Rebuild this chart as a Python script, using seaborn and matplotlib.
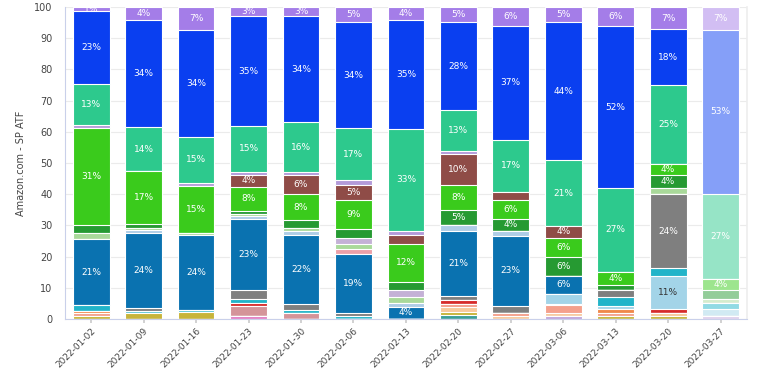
import matplotlib
matplotlib.use("Agg")
import matplotlib.pyplot as plt
import numpy as np
import pandas as pd
import seaborn as sns
from matplotlib.colors import to_rgb

# -------------------- data (share %, stack order bottom -> top) --------------------
weeks = ["2022-01-02", "2022-01-09", "2022-01-16", "2022-01-23", "2022-01-30",
         "2022-02-06", "2022-02-13", "2022-02-20", "2022-02-27", "2022-03-06",
         "2022-03-13", "2022-03-20", "2022-03-27"]
partial_week = "2022-03-27"   # drawn faded

lilac_b    = [0, 0, 0, 0, 0, 0, 0, 0, 0, 1.0, 0, 0, 1.0]
pink       = [0, 0, 0, 1.0, 0, 0, 0, 0, 0, 0, 0, 0, 0]
teal_small = [0, 0, 0, 0, 0, 0, 0, 1.2, 0, 0, 0, 0, 0]
olive      = [0.8, 2.0, 2.1, 0, 0, 0, 0, 1.2, 0, 0, 1.1, 1.0, 0]
peach      = [0, 0, 0, 0, 0, 0, 0, 1.5, 1.0, 1.0, 0, 1.0, 0]
salmon     = [1.0, 0, 0, 0, 0, 0, 0, 0.9, 1.0, 2.4, 0.9, 0, 0]
rose       = [0, 0, 0, 3.3, 1.9, 0, 0, 0, 0, 0, 0, 0, 0]
orange     = [0.7, 0, 0, 0, 0, 0, 0, 0, 0, 0, 1.1, 0, 0]
red        = [0, 0, 0, 0.8, 0, 0, 0, 1.4, 0, 0.5, 0, 1.3, 0]
skyblue    = [0, 0, 0, 0, 0, 0, 0, 0, 0, 3.2, 1.1, 10.6, 2.1]
cyan       = [2.0, 0.7, 0.7, 1.3, 1.0, 1.1, 0, 0, 0, 0, 2.9, 2.4, 1.9]
grey       = [0, 0.9, 0, 2.8, 2.0, 0.8, 0, 1.1, 2.1, 0, 2.1, 23.7, 0]
blue       = [21.0, 24.0, 24.2, 22.8, 22.1, 18.8, 3.9, 20.9, 22.6, 5.8, 0, 0, 0]
powder     = [0, 0.8, 0, 1.0, 1.1, 0, 1.1, 1.8, 1.5, 0, 0, 0, 0]
blush      = [0, 0, 0, 0, 0, 1.6, 0, 0, 0, 0, 0, 0, 0]
lightgreen = [2.0, 0.9, 0.6, 0.6, 1.0, 1.8, 2.1, 0, 0, 0, 0, 2.1, 1.3]
lavender   = [0, 0, 0, 0, 0, 2.0, 2.1, 0, 0, 0, 0, 0, 0]
darkgreen  = [2.5, 1.0, 0, 1.0, 2.6, 2.7, 2.8, 5.1, 4.0, 6.0, 1.8, 4.1, 3.0]
green      = [31.3, 17.0, 15.0, 7.8, 8.3, 9.2, 12.2, 7.9, 6.0, 6.2, 4.0, 3.6, 3.6]
brown      = [0, 0, 0, 3.8, 6.1, 5.1, 2.8, 10.0, 2.6, 3.6, 0, 0, 0]
lilac      = [1.0, 0, 0.9, 1.0, 1.1, 1.3, 1.3, 0.9, 0, 0, 0, 0, 0]
teal       = [13.0, 14.2, 15.0, 14.8, 15.8, 16.7, 32.7, 13.2, 16.6, 21.2, 27.1, 25.2, 27.1]
brightblue = [23.4, 34.2, 34.2, 35.0, 34.0, 34.0, 34.9, 28.0, 36.6, 44.2, 51.7, 17.9, 52.8]
purple     = [1.3, 4.3, 7.3, 3.0, 3.0, 4.9, 4.1, 4.9, 6.0, 4.9, 6.2, 7.1, 7.2]

series_names = ["lilac_b", "pink", "teal_small", "olive", "peach", "salmon", "rose",
                "orange", "red", "skyblue", "cyan", "grey", "blue", "powder", "blush",
                "lightgreen", "lavender", "darkgreen", "green", "brown", "lilac",
                "teal", "brightblue", "purple"]
series_values = [lilac_b, pink, teal_small, olive, peach, salmon, rose, orange, red,
                 skyblue, cyan, grey, blue, powder, blush, lightgreen, lavender,
                 darkgreen, green, brown, lilac, teal, brightblue, purple]
series_colors = ["#c0a8dc", "#e27fc4", "#3b9e98", "#c7b43a", "#f7c99c", "#f4a08c",
                 "#d49499", "#f0884a", "#d62b2b", "#a3d4e8", "#22b4c9", "#7f7f7f",
                 "#0a72b0", "#aecde6", "#eba0a8", "#a9d99a", "#c4b1d6", "#269a32",
                 "#3acb1c", "#8f4c47", "#b39bd9", "#2dc98d", "#0a3ff0", "#a47de8"]
# ------------------------------------------------------------------------------------


def fade(color, alpha=0.5):
    r, g, b = to_rgb(color)
    return (1 - alpha + alpha * r, 1 - alpha + alpha * g, 1 - alpha + alpha * b)


df = pd.DataFrame(dict(zip(series_names, series_values)), index=weeks)
cum = df.cumsum(axis=1)

sns.set_theme(style="white")
fig, ax = plt.subplots(figsize=(7.59, 3.72), dpi=100)
fig.subplots_adjust(left=0.0856, right=0.984, top=0.981, bottom=0.1425)

# stacked bars: draw cumulative totals from the top series down
for name, color in reversed(list(zip(series_names, series_colors))):
    pal = [fade(color) if wk == partial_week else color for wk in weeks]
    sns.barplot(x=weeks, y=cum[name].values, hue=weeks, palette=pal, legend=False,
                width=0.7, saturation=1, edgecolor="white", linewidth=0.8, ax=ax)

# percentage labels
for i, wk in enumerate(weeks):
    bottom = 0.0
    for name in series_names:
        v = df.loc[wk, name]
        if v >= 3.5 or (name == "purple" and v > 0):
            txt_color = "#333333" if name == "skyblue" else "white"
            ax.text(i, bottom + v / 2, f"{v:.0f}%", ha="center", va="center",
                    fontsize=6.5, color=txt_color)
        bottom += v

ax.set_ylim(0, 100)
ax.set_xlim(-0.5, len(weeks) - 0.5)
ax.set_yticks(np.arange(0, 101, 10))
ax.yaxis.grid(True, color="#ebebeb", linewidth=0.8)
ax.set_axisbelow(True)

for side in ["left", "bottom"]:
    ax.spines[side].set_color("#c9d0ea")
    ax.spines[side].set_linewidth(0.8)
ax.spines["top"].set_visible(False)
ax.spines["right"].set_color("#eeeeee")

ax.tick_params(axis="x", bottom=True, length=3, color="#cccccc", labelsize=6.5,
               labelcolor="#444444", pad=2)
ax.tick_params(axis="y", left=False, labelsize=7, labelcolor="#444444", pad=3)
plt.setp(ax.get_xticklabels(), rotation=45, ha="right", rotation_mode="anchor")

ax.set_xlabel("")
ax.set_ylabel("Amazon.com - SP ATF", fontsize=7, color="#444444", labelpad=6)

plt.savefig("out.png", dpi=100)
